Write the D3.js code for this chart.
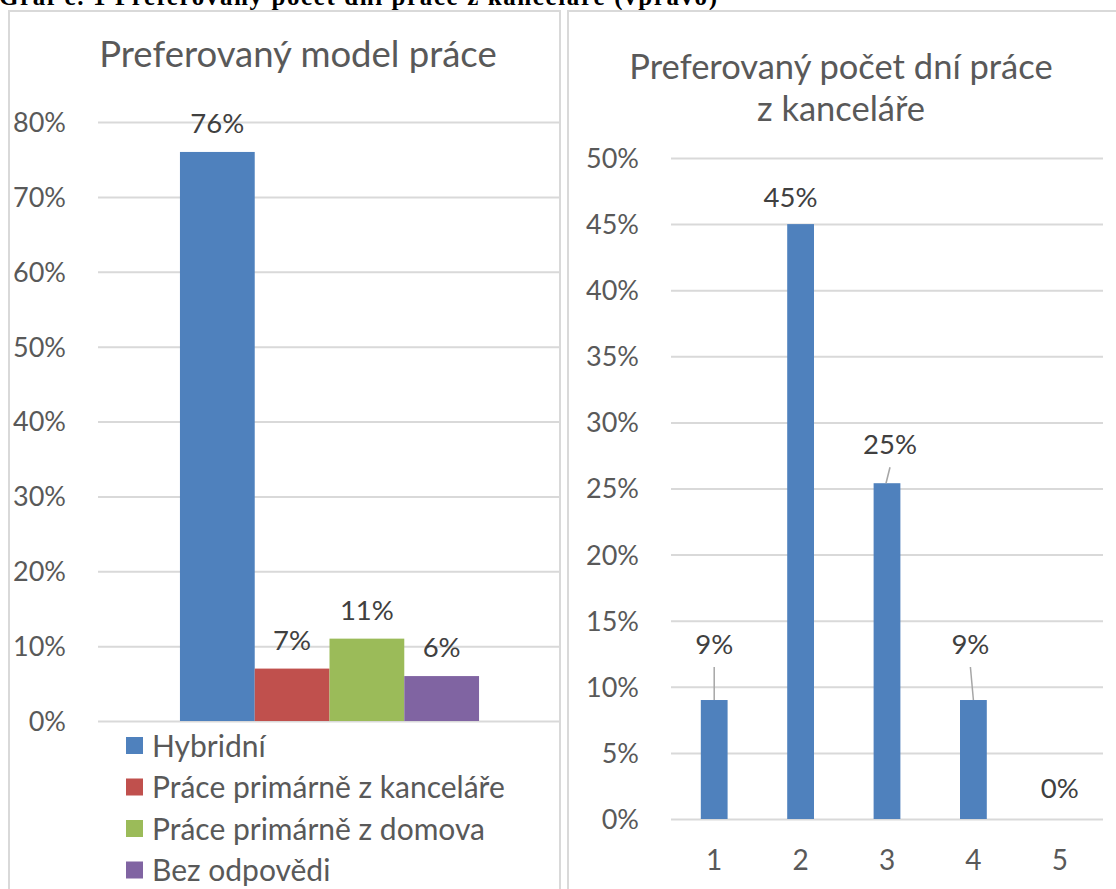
<!DOCTYPE html>
<html>
<head>
<meta charset="utf-8">
<script src="https://cdn.jsdelivr.net/npm/d3@7"></script>
<style>
  html, body { margin: 0; padding: 0; background: #fff; overflow: hidden; }
  svg { display: block; }
  .tick text { font-family: Lato, "Open Sans", sans-serif; }
</style>
</head>
<body>
<div id="chart"></div>
<script>
// ---------- data ----------
const modelCategories = ["Hybridní", "Práce primárně z kanceláře", "Práce primárně z domova", "Bez odpovědi"];
const modelValues = [0.76, 0.07, 0.11, 0.06];
const modelColors = ["#4f81bd", "#c0504d", "#9bbb59", "#8064a2"];
const modelTicks = [0, 0.1, 0.2, 0.3, 0.4, 0.5, 0.6, 0.7, 0.8];

const dayCategories = ["1", "2", "3", "4", "5"];
const dayValues = [0.09, 0.45, 0.254, 0.09, 0];
const dayLabels = ["9%", "45%", "25%", "9%", "0%"];
const dayTicks = [0, 0.05, 0.1, 0.15, 0.2, 0.25, 0.3, 0.35, 0.4, 0.45, 0.5];

const pageCaption = "Graf č. 1 Preferovaný počet dní práce z kanceláře (vpravo)";

// ---------- setup ----------
const W = 1116, H = 889;
const FONT = "Lato, 'Open Sans', sans-serif";
const TXT = "#595959", LBL = "#404040", GRID = "#d9d9d9";
const pct = d3.format(".0%");

const svg = d3.select("#chart").append("svg")
    .attr("width", W)
    .attr("height", H);

// caption cut off at top of the page
svg.append("text")
    .attr("x", -1)
    .attr("y", 5)
    .attr("font-family", "'Liberation Serif', 'DejaVu Serif', serif")
    .attr("font-weight", "bold")
    .attr("font-size", 25)
    .attr("fill", "#000")
    .attr("textLength", 718)
    .text(pageCaption);

// panel frames
svg.append("rect").attr("x", 9).attr("y", 11).attr("width", 551).attr("height", 900)
    .attr("fill", "none").attr("stroke", GRID).attr("stroke-width", 2);
svg.append("rect").attr("x", 568).attr("y", 11).attr("width", 600).attr("height", 900)
    .attr("fill", "none").attr("stroke", GRID).attr("stroke-width", 2);

function gridAxis(g, y, ticks, x0, x1, labelX) {
    const ax = g.append("g")
        .attr("transform", `translate(${x0},0)`)
        .call(d3.axisLeft(y).tickValues(ticks).tickFormat(pct).tickSize(-(x1 - x0)).tickPadding(0));
    ax.select(".domain").remove();
    ax.selectAll(".tick line").attr("stroke", GRID).attr("stroke-width", 2);
    ax.selectAll(".tick text")
        .attr("x", labelX - x0)
        .attr("dy", "0.35em")
        .attr("fill", TXT)
        .attr("font-size", 27);
    return ax;
}

// ---------- left chart: Preferovaný model práce ----------
const left = svg.append("g");
const lx0 = 98, lx1 = 561;
const ly = d3.scaleLinear().domain([0, 0.8]).range([721, 122]);

left.append("text")
    .attr("x", 298).attr("y", 67)
    .attr("text-anchor", "middle")
    .attr("font-family", FONT).attr("font-size", 36.5)
    .attr("fill", TXT)
    .text("Preferovaný model práce");

gridAxis(left, ly, modelTicks, lx0, lx1, 66);

const groupX = d3.scaleBand().domain(["all"]).range([lx0, lx1]).paddingOuter(0.274).paddingInner(0);
const barX = d3.scaleBand().domain(modelCategories).range([0, groupX.bandwidth()]).padding(0);

const lbars = left.append("g").attr("transform", `translate(${groupX("all")},0)`);
lbars.selectAll("rect")
    .data(modelCategories)
    .join("rect")
    .attr("x", d => barX(d))
    .attr("y", (d, i) => ly(modelValues[i]))
    .attr("width", barX.bandwidth())
    .attr("height", (d, i) => ly(0) - ly(modelValues[i]))
    .attr("fill", (d, i) => modelColors[i]);

lbars.selectAll("text.val")
    .data(modelCategories)
    .join("text")
    .attr("class", "val")
    .attr("x", d => barX(d) + barX.bandwidth() / 2)
    .attr("y", (d, i) => ly(modelValues[i]) - 19)
    .attr("text-anchor", "middle")
    .attr("font-family", FONT).attr("font-size", 27.5)
    .attr("fill", LBL)
    .text((d, i) => pct(modelValues[i]));

// legend
const legend = left.append("g");
const legRow = legend.selectAll("g")
    .data(modelCategories)
    .join("g")
    .attr("transform", (d, i) => `translate(126,${746 + i * 41.5})`);
legRow.append("rect")
    .attr("x", 0).attr("y", -9)
    .attr("width", 17).attr("height", 17)
    .attr("fill", (d, i) => modelColors[i]);
legRow.append("text")
    .attr("x", 26).attr("dy", "0.35em")
    .attr("font-family", FONT).attr("font-size", 30)
    .attr("fill", TXT)
    .text(d => d);

// ---------- right chart: Preferovaný počet dní ----------
const right = svg.append("g");
const rx0 = 671, rx1 = 1103;
const ry = d3.scaleLinear().domain([0, 0.5]).range([819, 158]);

const rTitle = right.append("text")
    .attr("text-anchor", "middle")
    .attr("font-family", FONT).attr("font-size", 34.5)
    .attr("fill", TXT);
rTitle.append("tspan").attr("x", 841).attr("y", 79).text("Preferovaný počet dní práce");
rTitle.append("tspan").attr("x", 841).attr("y", 121).text("z kanceláře");

gridAxis(right, ry, dayTicks, rx0, rx1, 639);

const rx = d3.scaleBand().domain(dayCategories).range([rx0, rx1]).paddingInner(0.69).paddingOuter(0.345);

right.append("g")
    .attr("transform", "translate(0,860)")
    .call(d3.axisBottom(rx).tickSize(0).tickPadding(0))
    .call(g => g.select(".domain").remove())
    .selectAll("text")
    .attr("dy", "0.35em")
    .attr("y", 0)
    .attr("fill", TXT)
    .attr("font-size", 28);

right.selectAll("rect.bar")
    .data(dayCategories)
    .join("rect")
    .attr("class", "bar")
    .attr("x", d => rx(d))
    .attr("y", (d, i) => ry(dayValues[i]))
    .attr("width", rx.bandwidth())
    .attr("height", (d, i) => ry(0) - ry(dayValues[i]))
    .attr("fill", modelColors[0]);

// data label placement (Excel moved some labels up and drew leader lines)
const labelLayout = [
    { dx: 0, lift: 46, leader: true },
    { dx: -10, lift: 17, leader: false },
    { dx: 3, lift: 29, leader: true },
    { dx: -3, lift: 46, leader: true },
    { dx: 0, lift: 21, leader: false }
];

right.selectAll("line.leader")
    .data(dayCategories.filter((d, i) => labelLayout[i].leader))
    .join("line")
    .attr("class", "leader")
    .attr("x1", d => {
        const i = dayCategories.indexOf(d);
        return rx(d) + rx.bandwidth() / 2 + labelLayout[i].dx;
    })
    .attr("y1", d => {
        const i = dayCategories.indexOf(d);
        return ry(dayValues[i]) - labelLayout[i].lift + 13;
    })
    .attr("x2", d => rx(d) + rx.bandwidth() / 2 - (dayCategories.indexOf(d) === 2 ? 1 : 0))
    .attr("y2", (d) => ry(dayValues[dayCategories.indexOf(d)]))
    .attr("stroke", "#a6a6a6")
    .attr("stroke-width", 1.5);

right.selectAll("text.val")
    .data(dayCategories)
    .join("text")
    .attr("class", "val")
    .attr("x", (d, i) => rx(d) + rx.bandwidth() / 2 + labelLayout[i].dx)
    .attr("y", (d, i) => ry(dayValues[i]) - labelLayout[i].lift)
    .attr("text-anchor", "middle")
    .attr("font-family", FONT).attr("font-size", 27.5)
    .attr("fill", LBL)
    .text((d, i) => dayLabels[i]);
</script>
</body>
</html>
